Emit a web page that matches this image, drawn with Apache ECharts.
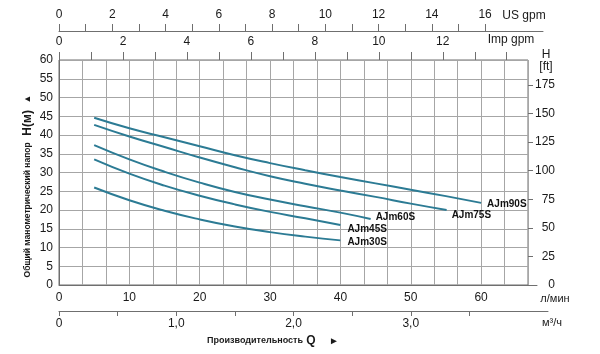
<!DOCTYPE html>
<html>
<head>
<meta charset="utf-8">
<script src="https://cdn.jsdelivr.net/npm/echarts@6/dist/echarts.min.js"></script>
<style>
  html, body { margin: 0; padding: 0; background: #fff; }
  #chart { width: 600px; height: 354px; }
</style>
</head>
<body>
<div id="chart"></div>
<script>
// pump curves, flow in l/min, head in m
const models = ['AJm90S', 'AJm75S', 'AJm60S', 'AJm45S', 'AJm30S']
const flows = [
  [5, 10, 15, 20, 25, 30, 35, 40, 45, 50, 55, 60],
  [5, 10, 15, 20, 25, 30, 35, 40, 45, 50, 55.1],
  [5, 10, 15, 20, 25, 30, 35, 40, 44.3],
  [5, 10, 15, 20, 25, 30, 35, 40],
  [5, 10, 15, 20, 25, 30, 35, 40]
]
const heads = [
  [44.6, 41.8, 39.4, 37.0, 34.6, 32.5, 30.6, 28.8, 27.1, 25.4, 23.7, 21.9],
  [42.7, 39.6, 36.8, 34.0, 31.4, 29.0, 27.0, 25.2, 23.5, 21.7, 20.0],
  [37.3, 33.5, 30.2, 27.3, 24.8, 22.8, 21.0, 19.3, 17.6],
  [33.5, 29.7, 26.5, 23.8, 21.5, 19.5, 17.8, 16.0],
  [26.0, 22.6, 19.8, 17.5, 15.6, 14.1, 12.9, 11.9]
]
const labelOffsets = [[-2, 1], [-3, 5], [-3, -2], [-1, 4], [-1, 2]]

// tick labels of the secondary scales
const lpmLabels = [0, 10, 20, 30, 40, 50, 60]
const m3hTicks = [0, 0.5, 1, 1.5, 2, 2.5, 3, 3.5]
const m3hLabels = [0, 1, 2, 3]
const usTicks = [0, 1, 2, 3, 4, 5, 6, 7, 8, 9, 10, 11, 12, 13, 14, 15, 16]
const usLabels = [0, 2, 4, 6, 8, 10, 12, 14, 16]
const impTicks = [0, 1, 2, 3, 4, 5, 6, 7, 8, 9, 10, 11, 12, 13, 14]
const impLabels = [0, 2, 4, 6, 8, 10, 12]

const L = 59, T = 60, W = 469, H = 225
const qMax = 200 / 3            // 4 m3/h in l/min
const pxPerLpm = W / qMax
const US_GAL = 3.78541, IMP_GAL = 4.54609

const textColor = '#1a1a1a'
const gridColor = '#a6a6a6'
const frameColor = '#6f6f6f'
const lineColor = '#2c7b94'
const font = 'Liberation Sans, Arial, sans-serif'

const chart = echarts.init(document.getElementById('chart'))

const hiddenY = (i) => ({ gridIndex: i, show: false, min: 0, max: 1 })

chart.setOption({
  animation: false,
  textStyle: { fontFamily: font },
  grid: [
    { left: L, top: T, width: W, height: H, show: true, borderColor: frameColor, borderWidth: 1 },
    { left: L, top: T, width: 478, height: H },
    { left: L, top: T, width: 489, height: 251 },
    { left: L, top: 31, width: 484, height: 254 }
  ],
  xAxis: [
    {
      gridIndex: 0, type: 'value', min: 0, max: qMax, interval: 10 / 3,
      axisLine: { show: false, onZero: false }, axisTick: { show: false }, axisLabel: { show: false },
      splitLine: { lineStyle: { color: gridColor, width: 1 } }
    },
    {
      gridIndex: 0, type: 'value', position: 'top', min: 0, max: qMax / IMP_GAL,
      axisLine: { show: false, onZero: false },
      axisTick: { show: true, length: 8, customValues: impTicks, lineStyle: { color: frameColor } },
      axisLabel: { customValues: impLabels, margin: 12, color: textColor, fontSize: 12 },
      splitLine: { show: false }
    },
    {
      gridIndex: 1, type: 'value', min: 0, max: 478 / pxPerLpm,
      axisLine: { onZero: false, lineStyle: { color: frameColor } },
      axisTick: { show: false },
      axisLabel: { customValues: lpmLabels, margin: 7, color: textColor, fontSize: 12 },
      splitLine: { show: false }
    },
    {
      gridIndex: 2, type: 'value', min: 0, max: 489 / pxPerLpm * 0.06,
      axisLine: { onZero: false, lineStyle: { color: frameColor } },
      axisTick: { show: true, length: 5, customValues: m3hTicks, lineStyle: { color: frameColor } },
      axisLabel: {
        customValues: m3hLabels, margin: 7, color: textColor, fontSize: 12,
        formatter: (v) => v === 0 ? '0' : v.toFixed(1).replace('.', ',')
      },
      splitLine: { show: false }
    },
    {
      gridIndex: 3, type: 'value', position: 'top', min: 0, max: 484 / pxPerLpm / US_GAL,
      axisLine: { onZero: false, lineStyle: { color: frameColor } },
      axisTick: { show: true, length: 7, customValues: usTicks, lineStyle: { color: frameColor } },
      axisLabel: { customValues: usLabels, margin: 10, color: textColor, fontSize: 12 },
      splitLine: { show: false }
    }
  ],
  yAxis: [
    {
      gridIndex: 0, type: 'value', min: 0, max: 60, interval: 5,
      axisLine: { show: true, onZero: false, lineStyle: { color: frameColor } },
      axisTick: { show: false },
      axisLabel: { margin: 6, color: textColor, fontSize: 12 },
      splitLine: { lineStyle: { color: gridColor, width: 1 } }
    },
    {
      gridIndex: 0, type: 'value', position: 'right', min: 0, max: 60 / 0.3048, interval: 25,
      axisLine: { show: false, onZero: false },
      axisTick: { show: true, length: 5, lineStyle: { color: frameColor } },
      axisLabel: { margin: 27, align: 'right', color: textColor, fontSize: 12, showMaxLabel: false },
      splitLine: { show: false }
    },
    hiddenY(1), hiddenY(2), hiddenY(3)
  ],
  series: models.map((name, i) => ({
    name,
    type: 'line',
    xAxisIndex: 0,
    yAxisIndex: 0,
    smooth: true,
    symbol: 'none',
    lineStyle: { color: lineColor, width: 2 },
    data: flows[i].map((q, j) => [q, heads[i][j]]),
    endLabel: {
      show: true,
      formatter: name,
      offset: labelOffsets[i],
      color: '#111',
      fontSize: 10,
      fontWeight: 'bold'
    }
  })),
  graphic: [
    { type: 'text', x: 524, y: 16, style: { text: 'US gpm', fill: textColor, font: '12px ' + font, align: 'center', verticalAlign: 'middle' } },
    { type: 'text', x: 511, y: 40, style: { text: 'Imp gpm', fill: textColor, font: '12px ' + font, align: 'center', verticalAlign: 'middle' } },
    { type: 'text', x: 546, y: 55, style: { text: 'H', fill: textColor, font: '12px ' + font, align: 'center', verticalAlign: 'middle' } },
    { type: 'text', x: 546, y: 67, style: { text: '[ft]', fill: textColor, font: '12px ' + font, align: 'center', verticalAlign: 'middle' } },
    { type: 'text', x: 555, y: 299, style: { text: 'л/мин', fill: textColor, font: '11px ' + font, align: 'center', verticalAlign: 'middle' } },
    { type: 'text', x: 552, y: 323, style: { text: 'м³/ч', fill: textColor, font: '11px ' + font, align: 'center', verticalAlign: 'middle' } },
    {
      type: 'text', x: 273, y: 341,
      style: {
        text: '{a|Производительность} {b|Q}    {c|►}',
        align: 'center', verticalAlign: 'middle',
        rich: {
          a: { fontSize: 9, fontWeight: 'bold', fill: textColor, fontFamily: font },
          b: { fontSize: 12, fontWeight: 'bold', fill: textColor, fontFamily: font },
          c: { fontSize: 10, fill: textColor, fontFamily: font }
        }
      }
    },
    {
      type: 'text', x: 28, y: 186, rotation: Math.PI / 2,
      style: {
        text: '{a|Общий манометрический напор}  {b|H(м)}  {c|▲}',
        align: 'center', verticalAlign: 'middle',
        rich: {
          a: { fontSize: 8.5, fontWeight: 'bold', fill: textColor, fontFamily: font },
          b: { fontSize: 12, fontWeight: 'bold', fill: textColor, fontFamily: font },
          c: { fontSize: 9, fill: textColor, fontFamily: font }
        }
      }
    }
  ]
})
</script>
</body>
</html>
